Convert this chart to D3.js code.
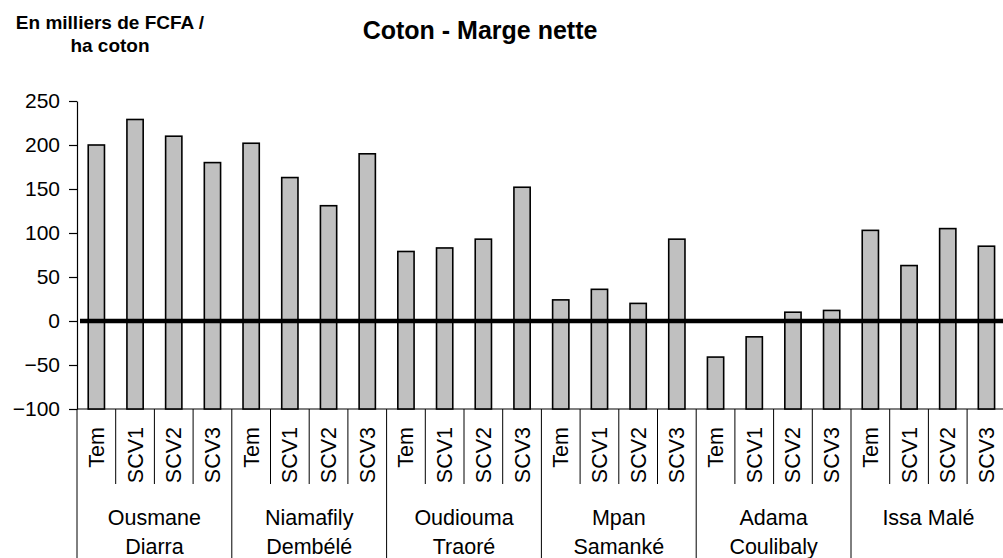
<!DOCTYPE html>
<html>
<head>
<meta charset="utf-8">
<script src="https://cdn.jsdelivr.net/npm/d3@7"></script>
<style>
  body { margin: 0; background: #fff; }
  text { font-family: "Liberation Sans", Arial, sans-serif; fill: #000; }
</style>
</head>
<body>
<div id="chart"></div>
<script>
// data
const treatments = ["Tem", "SCV1", "SCV2", "SCV3"];
const groupNames = [
  ["Ousmane", "Diarra"],
  ["Niamafily", "Dembélé"],
  ["Oudiouma", "Traoré"],
  ["Mpan", "Samanké"],
  ["Adama", "Coulibaly"],
  ["Issa Malé"]
];
const ousmaneDiarra = [200, 229, 210, 180];
const niamafilyDembele = [202, 163, 131, 190];
const oudioumaTraore = [79, 83, 93, 152];
const mpanSamanke = [24, 36, 20, 93];
const adamaCoulibaly = [-41, -18, 10, 12];
const issaMale = [103, 63, 105, 85];
const yTicks = [-100, -50, 0, 50, 100, 150, 200, 250];

const seriesByGroup = [ousmaneDiarra, niamafilyDembele, oudioumaTraore, mpanSamanke, adamaCoulibaly, issaMale];

const width = 1003, height = 558;
const left = 77, plotTop = 101, plotBottom = 409;

// flat list of bars
const bars = [];
seriesByGroup.forEach((vals, g) => {
  vals.forEach((v, t) => bars.push({ key: g + "-" + t, group: g, treat: treatments[t], value: v }));
});

const svg = d3.select("#chart").append("svg")
  .attr("width", width)
  .attr("height", height);

const x = d3.scaleBand()
  .domain(bars.map(d => d.key))
  .range([left, left + 24 * 38.7])
  .paddingInner(0.58)
  .paddingOuter(0.29);

const y = d3.scaleLinear()
  .domain([-100, 250])
  .range([plotBottom, plotTop]);

const half = (x.step() - x.bandwidth()) / 2;
const bandStart = k => x(k) - half;

// y axis
const yAxis = svg.append("g")
  .attr("transform", "translate(" + left + ",0)")
  .call(d3.axisLeft(y).tickValues(yTicks).tickSize(8).tickSizeOuter(0).tickPadding(9));
yAxis.select(".domain").attr("stroke", "#000").attr("stroke-width", 1.2);
yAxis.selectAll(".tick line").attr("stroke", "#000").attr("stroke-width", 1.2);
yAxis.selectAll(".tick text")
  .attr("font-family", "Liberation Sans, Arial, sans-serif")
  .attr("font-size", 21)
  .attr("fill", "#000");

// category axis baseline
svg.append("line")
  .attr("x1", left).attr("x2", width)
  .attr("y1", y(-100)).attr("y2", y(-100))
  .attr("stroke", "#000").attr("stroke-width", 1.2);

// bars rise from the axis minimum (-100)
svg.selectAll("rect.bar")
  .data(bars)
  .enter()
  .append("rect")
  .attr("class", "bar")
  .attr("x", d => x(d.key))
  .attr("width", x.bandwidth())
  .attr("y", d => y(d.value))
  .attr("height", d => y(-100) - y(d.value))
  .attr("fill", "#c0c0c0")
  .attr("stroke", "#000")
  .attr("stroke-width", 1.6);

// thick zero line
svg.append("line")
  .attr("x1", left + 3).attr("x2", width)
  .attr("y1", y(0)).attr("y2", y(0))
  .attr("stroke", "#000").attr("stroke-width", 4.5);

// separators under the axis
svg.selectAll("line.sep")
  .data(bars)
  .enter()
  .append("line")
  .attr("class", "sep")
  .attr("x1", d => bandStart(d.key)).attr("x2", d => bandStart(d.key))
  .attr("y1", y(-100))
  .attr("y2", d => treatments.indexOf(d.treat) === 0 ? height : 484)
  .attr("stroke", "#000").attr("stroke-width", 1);

// treatment labels, rotated
svg.selectAll("text.treat")
  .data(bars)
  .enter()
  .append("text")
  .attr("class", "treat")
  .attr("transform", d => "translate(" + (x(d.key) + x.bandwidth() / 2) + ",427) rotate(-90)")
  .attr("dy", "0.35em")
  .attr("text-anchor", "end")
  .attr("font-size", 21.5)
  .text(d => d.treat);

// group labels
const groupLabels = svg.selectAll("text.group")
  .data(groupNames)
  .enter()
  .append("text")
  .attr("class", "group")
  .attr("text-anchor", "middle")
  .attr("font-size", 21.5)
  .attr("x", (d, g) => {
    const first = g + "-0", last = g + "-3";
    return (bandStart(first) + bandStart(last) + x.step()) / 2;
  })
  .attr("y", 525);
groupLabels.selectAll("tspan")
  .data(d => d)
  .enter()
  .append("tspan")
  .attr("x", function () { return d3.select(this.parentNode).attr("x"); })
  .attr("dy", (d, i) => i === 0 ? 0 : 29)
  .text(d => d);

// title
svg.append("text")
  .attr("x", 480).attr("y", 38.5)
  .attr("text-anchor", "middle")
  .attr("font-size", 25)
  .attr("font-weight", "bold")
  .text("Coton - Marge nette");

// unit label
const unit = svg.append("text")
  .attr("text-anchor", "middle")
  .attr("font-size", 19)
  .attr("font-weight", "bold");
unit.append("tspan").attr("x", 110).attr("y", 28.5).text("En milliers de FCFA /");
unit.append("tspan").attr("x", 110).attr("y", 51.5).text("ha coton");
</script>
</body>
</html>
